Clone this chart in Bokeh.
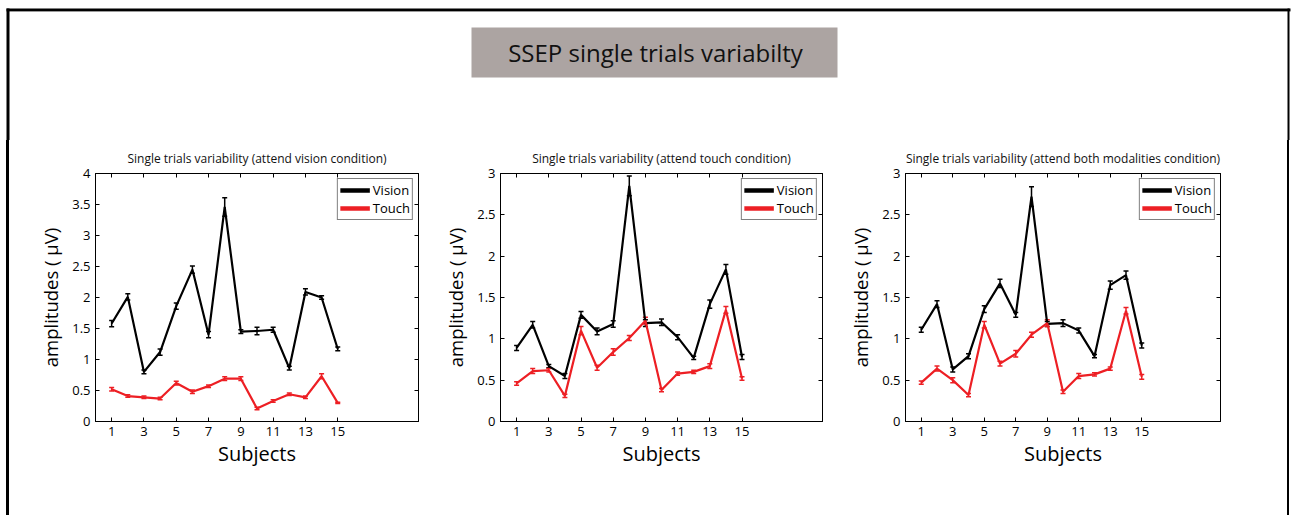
from bokeh.plotting import figure
from bokeh.models import (Range1d, FixedTicker, LinearAxis, Legend, LegendItem,
                          Whisker, TeeHead, ColumnDataSource, Div)
from bokeh.layouts import column, row
from bokeh.core.properties import value
from bokeh.embed import file_html
from bokeh.resources import INLINE

FONT = "Open Sans"

subjects = list(range(1, 16))
x_ticks = [1, 3, 5, 7, 9, 11, 13, 15]

# Panel 1: attend vision
vision_1 = [1.58, 2.01, 0.80, 1.12, 1.86, 2.45, 1.40, 3.46, 1.45, 1.46, 1.48, 0.86, 2.09, 2.00, 1.17]
vision_1_err = [0.05, 0.05, 0.03, 0.05, 0.05, 0.06, 0.05, 0.15, 0.03, 0.06, 0.04, 0.03, 0.05, 0.03, 0.03]
touch_1 = [0.52, 0.41, 0.39, 0.37, 0.62, 0.48, 0.57, 0.69, 0.69, 0.21, 0.33, 0.44, 0.39, 0.73, 0.30]
touch_1_err = [0.03, 0.02, 0.02, 0.02, 0.03, 0.03, 0.02, 0.03, 0.03, 0.02, 0.02, 0.02, 0.02, 0.04, 0.01]

# Panel 2: attend touch
vision_2 = [0.89, 1.17, 0.67, 0.55, 1.29, 1.09, 1.18, 2.85, 1.19, 1.20, 1.02, 0.77, 1.42, 1.84, 0.78]
vision_2_err = [0.03, 0.04, 0.02, 0.03, 0.04, 0.04, 0.04, 0.12, 0.04, 0.04, 0.03, 0.02, 0.05, 0.06, 0.03]
touch_2 = [0.46, 0.61, 0.62, 0.31, 1.10, 0.65, 0.84, 1.01, 1.22, 0.38, 0.58, 0.60, 0.67, 1.35, 0.52]
touch_2_err = [0.02, 0.03, 0.02, 0.02, 0.05, 0.03, 0.04, 0.03, 0.04, 0.02, 0.02, 0.02, 0.03, 0.04, 0.02]

# Panel 3: attend both modalities
vision_3 = [1.11, 1.42, 0.63, 0.79, 1.36, 1.67, 1.29, 2.72, 1.18, 1.19, 1.10, 0.79, 1.65, 1.77, 0.92]
vision_3_err = [0.03, 0.04, 0.03, 0.03, 0.04, 0.05, 0.03, 0.12, 0.03, 0.04, 0.03, 0.02, 0.05, 0.05, 0.03]
touch_3 = [0.47, 0.64, 0.50, 0.32, 1.17, 0.70, 0.82, 1.05, 1.19, 0.36, 0.55, 0.57, 0.64, 1.34, 0.54]
touch_3_err = [0.02, 0.03, 0.03, 0.02, 0.04, 0.03, 0.04, 0.03, 0.04, 0.02, 0.03, 0.02, 0.02, 0.04, 0.03]

titles = ["Single trials variability (attend vision condition)",
          "Single trials variability (attend touch condition)",
          "Single trials variability (attend both modalities condition)"]
main_title = "SSEP single trials variabilty"
series_names = ["Vision", "Touch"]
y_max = [4, 3, 3]
y_ticks = [[0, 0.5, 1, 1.5, 2, 2.5, 3, 3.5, 4], [0, 0.5, 1, 1.5, 2, 2.5, 3], [0, 0.5, 1, 1.5, 2, 2.5, 3]]

BLACK = "#000000"
RED = "#ed1f24"
TOTAL_W = 1291
HEADER_H = 140
PANEL_H = 375

# ---------------- header ----------------
header = figure(width=TOTAL_W, height=HEADER_H, x_range=Range1d(0, TOTAL_W), y_range=Range1d(HEADER_H, 0),
                output_backend="svg", toolbar_location=None, min_border=0,
                x_axis_type=None, y_axis_type=None)
header.outline_line_color = None
header.grid.visible = False
header.background_fill_color = "white"
header.border_fill_color = "white"
# frame border lines (top, left, right) and the thin grey shadow under the top line
header.quad(left=[6], right=[1290], top=[10.5], bottom=[11.5], fill_color="#9a9a9a", line_color=None)
header.quad(left=[6, 6, 1287], right=[1290, 9, 1289], top=[8, 8, 8], bottom=[10.5, HEADER_H, HEADER_H],
            fill_color=BLACK, line_color=None)
# grey title box
header.quad(left=[471], right=[837], top=[27], bottom=[77], fill_color="#aca4a2", line_color=None)
header.text(x=[655], y=[52], text=[main_title], text_font=value(FONT), text_font_size="24px",
            text_align="center", text_baseline="middle", text_color="#111111")


def make_panel(i, vis, vis_err, tch, tch_err, width, left, right):
    p = figure(width=width, height=PANEL_H, x_range=Range1d(0, 20), y_range=Range1d(0, y_max[i]),
               output_backend="svg", toolbar_location=None,
               min_border_left=left, min_border_right=right, min_border_top=33, min_border_bottom=94,
               title=titles[i])
    p.title.align = "center"
    p.title.text_font = FONT
    p.title.text_font_size = "12px"
    p.title.text_font_style = "normal"
    p.title.text_color = "#111111"
    p.title.standoff = 13
    p.grid.visible = False
    p.outline_line_color = BLACK
    p.outline_line_width = 1
    p.background_fill_color = "white"
    p.border_fill_color = "white"

    for ax in (p.xaxis[0], p.yaxis[0]):
        ax.major_tick_in = 4
        ax.major_tick_out = 0
        ax.minor_tick_line_color = None
        ax.axis_line_color = BLACK
        ax.major_tick_line_color = BLACK
        ax.major_label_text_font = FONT
        ax.major_label_text_font_size = "13px"
        ax.major_label_text_color = BLACK
        ax.major_label_standoff = 5
        ax.axis_label_text_font = FONT
        ax.axis_label_text_font_style = "normal"
        ax.axis_label_text_color = BLACK
    p.xaxis[0].ticker = FixedTicker(ticks=x_ticks)
    p.yaxis[0].ticker = FixedTicker(ticks=y_ticks[i])
    p.xaxis[0].axis_label = "Subjects"
    p.xaxis[0].axis_label_text_font_size = "20px"
    p.xaxis[0].axis_label_standoff = 1
    p.yaxis[0].axis_label = "amplitudes ( µV)"
    p.yaxis[0].axis_label_text_font_size = "18.5px"
    p.yaxis[0].axis_label_standoff = 6

    # mirrored ticks on the top and right edges (box on), without labels
    top_ax = LinearAxis(ticker=FixedTicker(ticks=x_ticks))
    right_ax = LinearAxis(ticker=FixedTicker(ticks=y_ticks[i]))
    for ax in (top_ax, right_ax):
        ax.major_tick_in = 4
        ax.major_tick_out = 0
        ax.minor_tick_line_color = None
        ax.major_label_text_color = None
        ax.major_label_text_font_size = "1px"
        ax.major_label_standoff = 0
        ax.axis_line_color = BLACK
    p.add_layout(top_ax, "above")
    p.add_layout(right_ax, "right")

    legend_renderers = []
    for vals, errs, col in ((vis, vis_err, BLACK), (tch, tch_err, RED)):
        src = ColumnDataSource(dict(x=subjects, y=vals,
                                    lo=[v - e for v, e in zip(vals, errs)],
                                    hi=[v + e for v, e in zip(vals, errs)]))
        p.line("x", "y", source=src, line_color=col, line_width=2.2)
        w = Whisker(base="x", lower="lo", upper="hi", source=src, dimension="height",
                    line_color=col, line_width=1.5,
                    upper_head=TeeHead(size=5, line_color=col, line_width=1.5),
                    lower_head=TeeHead(size=5, line_color=col, line_width=1.5))
        p.add_layout(w)
        # thicker, hidden line used only for the legend sample
        leg = p.line("x", "y", source=src, line_color=col, line_width=4.5, visible=False)
        legend_renderers.append(leg)

    legend = Legend(items=[LegendItem(label=series_names[k], renderers=[legend_renderers[k]])
                           for k in range(2)],
                    location="top_right")
    legend.label_text_font = FONT
    legend.label_text_font_size = "13px"
    legend.label_text_color = BLACK
    legend.glyph_width = 30
    legend.glyph_height = 12
    legend.label_height = 12
    legend.label_standoff = 3
    legend.spacing = 0
    legend.padding = 2
    legend.margin = 5
    legend.border_line_color = BLACK
    legend.border_line_width = 1
    legend.background_fill_alpha = 1
    legend.inactive_fill_alpha = 0
    p.add_layout(legend)
    return p


p1 = make_panel(0, vision_1, vision_1_err, touch_1, touch_1_err, 431, 86, 22)
p2 = make_panel(1, vision_2, vision_2_err, touch_2, touch_2_err, 405, 57, 23)
p3 = make_panel(2, vision_3, vision_3_err, touch_3, touch_3_err, 442, 54, 67)


def bar(w, color):
    return Div(text="", width=w, height=PANEL_H, margin=0,
               styles={"background-color": color, "overflow": "hidden"})


layout = column(header,
                row(bar(6, "white"), bar(3, "black"), p1, p2, p3, bar(2, "black"), bar(2, "white"),
                    spacing=0),
                spacing=0)

open("out.html", "w").write(file_html(layout, INLINE))
